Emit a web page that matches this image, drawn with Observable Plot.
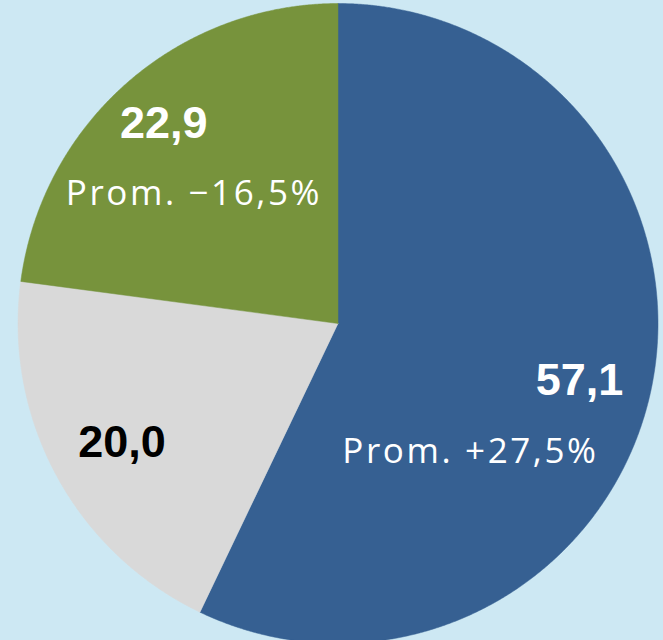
<!DOCTYPE html>
<html><head><meta charset="utf-8">
<script src="https://cdn.jsdelivr.net/npm/d3@7"></script>
<script src="https://cdn.jsdelivr.net/npm/@observablehq/plot@0.6"></script>
<style>html,body{margin:0;padding:0;background:#cde8f3;overflow:hidden}</style>
</head><body><div id="chart"></div>
<script>
// Data (slices in clockwise order starting at 12 o'clock)
const categories = ["azul", "gris", "verde"];
const values = [57.1, 20.0, 22.9];
const valueLabels = ["57,1", "20,0", "22,9"];
const changeLabels = ["Prom. +27,5%", "", "Prom. \u221216,5%"];
const colors = ["#366092", "#d9d9d9", "#77933c"];

const pie = d3.pie().sort(null).value(d => d)(values);

// wedge outlines built from the pie angles
const wedgePts = [];
pie.forEach((p, i) => {
  const key = categories[i];
  wedgePts.push({key, color: colors[i], x: 0, y: 0});
  const n = Math.max(2, Math.ceil((p.endAngle - p.startAngle) / 0.004));
  for (let j = 0; j <= n; j++) {
    const a = p.startAngle + (p.endAngle - p.startAngle) * j / n;
    wedgePts.push({key, color: colors[i], x: Math.sin(a), y: Math.cos(a)});
  }
  wedgePts.push({key, color: colors[i], x: 0, y: 0});
});

// label anchors at the wedge mid-angle
const k = 0.62;
const labels = pie.map((p, i) => {
  const a = (p.startAngle + p.endAngle) / 2;
  return {key: categories[i], x: k * Math.sin(a), y: k * Math.cos(a), value: valueLabels[i], change: changeLabels[i]};
});
const lab = key => labels.filter(d => d.key === key);

const R = 320;
const bold = {fontFamily: "'Liberation Sans', Arial, sans-serif", fontWeight: "bold", fontSize: 45, textAnchor: "middle"};
const reg = {fontFamily: "'Open Sans', sans-serif", fontSize: 35, textAnchor: "middle"};

const chart = Plot.plot({
  width: 663,
  height: 640,
  margin: 0,
  style: {background: "#cde8f3"},
  x: {domain: [-337.5 / R, (663 - 337.5) / R], axis: null},
  y: {domain: [-(640 - 323) / R, 323 / R], axis: null},
  color: {type: "identity"},
  marks: [
    Plot.line(wedgePts, {x: "x", y: "y", z: "key", fill: "color", stroke: "color", strokeWidth: 0.5, curve: "linear"}),
    Plot.text(lab("azul"), {x: "x", y: "y", text: "value", fill: "white", dx: 48, dy: 13.6, ...bold}),
    Plot.text(lab("azul"), {x: "x", y: "y", text: "change", fill: "white", dx: -61, dy: 84.8, ...reg}),
    Plot.text(lab("verde"), {x: "x", y: "y", text: "value", fill: "white", dx: -43.5, dy: -51, ...bold}),
    Plot.text(lab("verde"), {x: "x", y: "y", text: "change", fill: "white", dx: -13.3, dy: 20, ...reg}),
    Plot.text(lab("gris"), {x: "x", y: "y", text: "value", fill: "black", dx: -41.5, dy: 25, ...bold})
  ]
});
// widen the tracking of the "Prom." labels
d3.select(chart).selectAll("text")
  .filter(function () { return this.textContent.startsWith("Prom."); })
  .style("letter-spacing", "2.6px");
document.getElementById("chart").appendChild(chart);
</script>
</body></html>
